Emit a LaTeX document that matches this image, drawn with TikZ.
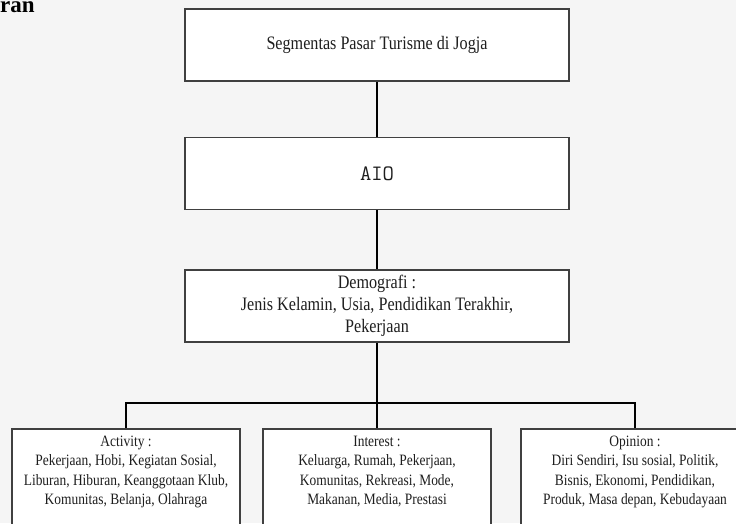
\documentclass[tikz,border=0pt]{standalone}
\usepackage{fontspec}
\setmainfont{Liberation Serif}[FakeStretch=0.85]
\newfontfamily\headfont{Liberation Serif}
\usetikzlibrary{positioning}

\definecolor{pagegray}{RGB}{245,245,245}
\definecolor{boxline}{RGB}{64,64,64}
\definecolor{inkgray}{RGB}{30,30,30}

\tikzset{
  box/.style={draw=boxline, line width=1.5pt, fill=white, minimum width=384pt,
    minimum height=72pt, inner sep=0pt, align=center, text=inkgray,
    font=\fontsize{19}{22}\selectfont},
  leaf/.style={draw=boxline, line width=1.5pt, fill=white, minimum width=228pt,
    minimum height=120pt, anchor=north, inner sep=0pt},
  leaftext/.style={align=center, inner sep=0pt, text=inkgray,
    font=\fontsize{15.8}{19.3}\selectfont},
  conn/.style={line width=2pt, black},
}

\begin{document}
\begin{tikzpicture}[x=1pt, y=-1pt]
  \useasboundingbox (0,0) rectangle (736,523);
  \clip (0,0) rectangle (736,523);
  \fill[pagegray] (0,0) rectangle (736,523);
  \node[anchor=base west, inner sep=0pt, font=\headfont\fontsize{23}{25}\bfseries\selectfont] (head) at (0,12) {ran};

  % upper chain
  \node[box] (seg) at (377,45) {Segmentas Pasar Turisme di Jogja};
  \node[box, below=55pt of seg, font=\ttfamily\fontsize{22}{24}\selectfont] (aio) {AIO};
  \node[box, below=59pt of aio] (demo) {Demografi :\\Jenis Kelamin, Usia, Pendidikan Terakhir,\\Pekerjaan};

  % AIO groups
  \node[leaf] (act) at (126,428) {};
  \node[leaf] (intr) at (377,428) {};
  \node[leaf] (opi) at (635,428) {};
  \node[leaftext, below=8pt of act.north] (acttxt) {Activity :\\Pekerjaan, Hobi, Kegiatan Sosial,\\Liburan, Hiburan, Keanggotaan Klub,\\Komunitas, Belanja, Olahraga};
  \node[leaftext, below=8pt of intr.north] (intrtxt) {Interest :\\Keluarga, Rumah, Pekerjaan,\\Komunitas, Rekreasi, Mode,\\Makanan, Media, Prestasi};
  \node[leaftext, below=8pt of opi.north] (opitxt) {Opinion :\\Diri Sendiri, Isu sosial, Politik,\\Bisnis, Ekonomi, Pendidikan,\\Produk, Masa depan, Kebudayaan};

  % connectors
  \coordinate (bus) at (demo.south |- 0,403);
  \draw[conn] (seg) -- (aio);
  \draw[conn] (aio) -- (demo);
  \draw[conn] (demo.south) -- (bus);
  \draw[conn] (act.north) |- (bus) -| (opi.north);
  \draw[conn] (bus) -- (intr.north);
\end{tikzpicture}
\end{document}
